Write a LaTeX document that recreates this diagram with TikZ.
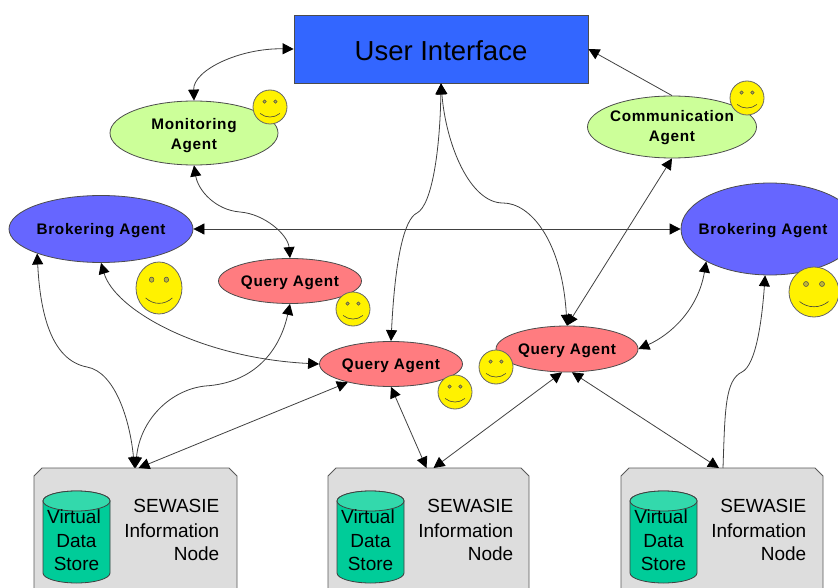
\documentclass[tikz,border=0pt]{standalone}
\usepackage{fontspec}
\setmainfont{Liberation Sans}
\usetikzlibrary{shapes.geometric,arrows.meta,calc}
\definecolor{uiblue}{HTML}{3366FF}
\definecolor{brokerblue}{HTML}{6666FF}
\definecolor{querypink}{HTML}{FF7C80}
\definecolor{agentgreen}{HTML}{CCFF99}
\definecolor{nodegrey}{HTML}{DDDDDD}
\definecolor{storegreen}{HTML}{00CC99}
\definecolor{storetop}{HTML}{33D9AC}
\newcommand{\smiley}[4]{%
 \begin{scope}[shift={(#1,#2)},xscale=#3,yscale=#4]
  \draw[draw=black!60,line width=0.8pt,fill=yellow] (0,0) circle (1);
  \draw[draw=black!70,line width=0.5pt,fill=yellow!70!black] (-0.32,-0.32) circle (0.1) (0.32,-0.32) circle (0.1);
  \draw[line width=0.6pt,black!75] (-0.58,0.38) .. controls (-0.25,0.66) and (0.25,0.66) .. (0.58,0.38);
 \end{scope}}
\newcommand{\infonode}[3]{%
 \coordinate (#1) at (#2+#3/2,468);
 \draw[draw=black!65,line width=0.9pt,fill=nodegrey] (#2,600) -- (#2,476) -- (#2+8,468) -- (#2+#3-8,468) -- (#2+#3,476) -- (#2+#3,600) -- cycle;
 \begin{scope}[shift={(#2,0)}]
  \draw[draw=black!75,line width=0.8pt,fill=storegreen] (9,501) -- (9,573) arc[start angle=180,end angle=0,x radius=33.5,y radius=10] -- (76,501) arc[start angle=0,end angle=-180,x radius=33.5,y radius=10] -- cycle;
  \draw[draw=black!75,line width=0.8pt,fill=storetop] (42.5,501) ellipse[x radius=33.5,y radius=10];
  \node[lbl] at (40,517) {Virtual};
  \node[lbl] at (42.5,541) {Data};
  \node[lbl] at (42.5,564) {Store};
  \node[lbl,anchor=east] at (185.5,506) {SEWASIE};
  \node[lbl,anchor=east] at (185.5,531) {Information};
  \node[lbl,anchor=east] at (185.5,554) {Node};
 \end{scope}}
\tikzset{
 agent/.style={ellipse,draw=black!70,line width=0.8pt,inner sep=0pt,align=center,font=\fontsize{15.3}{20}\selectfont\bfseries\addfontfeature{LetterSpace=4.5}},
 lbl/.style={inner sep=0pt,font=\fontsize{19}{22}\selectfont},
 link/.style={draw=black!75,line width=0.8pt},
 twoway/.style={link,{Triangle[length=11pt,width=11pt,black]}-{Triangle[length=11pt,width=11pt,black]}},
 oneway/.style={link,-{Triangle[length=11pt,width=11pt,black]}},
}
\begin{document}
\begin{tikzpicture}[x=1pt,y=-1pt]
\useasboundingbox (0,0) rectangle (838,588);
\begin{scope}
\clip (0,0) rectangle (838,588);
\node[draw=black!70,line width=0.8pt,fill=uiblue,minimum width=294pt,minimum height=68pt,inner sep=0pt,font=\fontsize{27.5}{30}\selectfont,execute at begin node={\rule{0pt}{24pt}}] (ui) at (441,49) {User Interface};
\node[agent,fill=agentgreen,minimum width=168pt,minimum height=64pt] (mon) at (194,133) {\rule{0pt}{17pt}Monitoring\\Agent};
\node[agent,fill=agentgreen,inner xsep=-3pt,minimum width=169pt,minimum height=62pt] (com) at (672,127) {\rule{0pt}{13pt}Communication\\Agent};
\node[agent,fill=brokerblue,minimum width=184pt,minimum height=67pt] (bl) at (101,229) {\rule{0pt}{14pt}Brokering Agent};
\node[agent,fill=brokerblue,minimum width=178pt,minimum height=92pt] (br) at (770,229) {\rule{0pt}{14pt}\hspace*{-14pt}Brokering Agent};
\node[agent,fill=querypink,minimum width=143pt,minimum height=45pt] (q1) at (290,281) {\rule{0pt}{14pt}Query Agent};
\node[agent,fill=querypink,minimum width=143pt,minimum height=45pt] (q2) at (391,364) {\rule{0pt}{14pt}Query Agent};
\node[agent,fill=querypink,minimum width=142pt,minimum height=46pt] (q3) at (567,349) {\rule{0pt}{14pt}Query Agent};
\infonode{n1}{34}{203}
\infonode{n2}{328}{201}
\infonode{n3}{621}{202}
\smiley{270}{107}{17}{17}
\smiley{747}{98}{17}{17}
\smiley{159}{288}{23}{26}
\smiley{353}{309}{17}{17}
\smiley{455}{392}{17}{17}
\smiley{496}{367}{17}{17}
\smiley{814}{292}{25}{25}
\coordinate (bln) at (87,367);
\coordinate (qn) at (205,386);
\coordinate (mq) at (240,212);
\coordinate (uq3) at (503,203);
\coordinate (uq2) at (417,213);
\coordinate (brn) at (742,372);
\draw[twoway] (ui.west) .. controls (240,48) and (193,70) .. (mon.north);
\draw[oneway] (com.north) -- (ui.east);
\draw[twoway] (mon.south) .. controls (198,190) and (215,210) .. (mq) .. controls (265,214) and (288,235) .. (q1.north);
\draw[twoway] (bl.east) -- (br.west);
\draw[twoway] (ui.south) .. controls (440,150) and (432,205) .. (uq2) .. controls (404,219) and (395,260) .. (q2.north);
\draw[twoway] (ui.south) .. controls (446,145) and (470,203) .. (uq3) .. controls (530,203) and (562,240) .. (q3.north);
\draw[twoway] (com.south) -- (q3.north);
\draw[twoway] (br.207) .. controls (698,310) and (670,335) .. (q3.east);
\draw[oneway] ($(n3)+(1,0)$) .. controls (725,410) and (725,380) .. (brn) .. controls (756,365) and (762,320) .. (br.264);
\draw[twoway] (q3.258) -- ($(n2)+(5,0)$);
\draw[twoway] (q3.282) -- ($(n3)+(-3,0)$);
\draw[twoway] (q2.south) -- ($(n2)+(-2,0)$);
\draw[twoway] (q2.203) -- ($(n1)+(3,0)$);
\draw[twoway] (q1.south) .. controls (280,350) and (255,383) .. (qn) .. controls (170,390) and (140,420) .. (n1);
\draw[twoway] (bl.201) .. controls (40,310) and (50,360) .. (bln) .. controls (115,372) and (130,420) .. ($(n1)+(-1,0)$);
\draw[twoway] (bl.south) .. controls (115,310) and (200,358) .. (q2.west);
\end{scope}
\end{tikzpicture}
\end{document}
